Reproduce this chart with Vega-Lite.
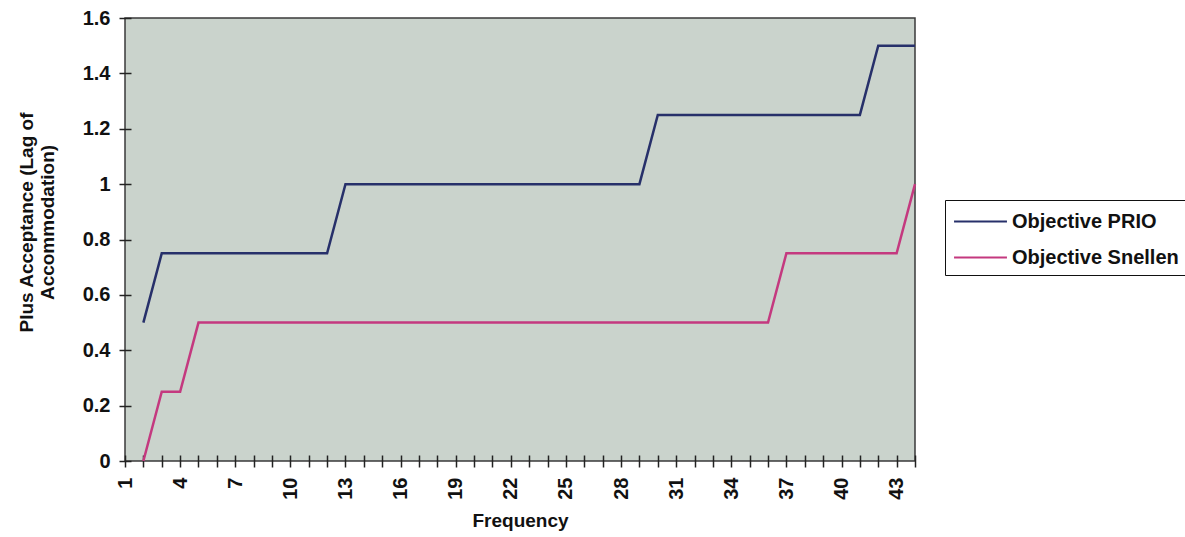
{
  "$schema": "https://vega.github.io/schema/vega-lite/v6.json",
  "width": 790,
  "height": 443,
  "autosize": {"type": "none"},
  "padding": {"left": 125, "top": 18, "right": 270, "bottom": 76},
  "background": "white",
  "config": {
    "font": "Liberation Sans",
    "view": {"fill": "#cad3cc", "stroke": "#3a3a3a", "strokeWidth": 1.5},
    "axis": {
      "labelFont": "Liberation Sans", "labelFontWeight": "bold", "labelFontSize": 20, "labelColor": "#111",
      "titleFont": "Liberation Sans", "titleFontWeight": "bold", "titleFontSize": 19, "titleColor": "#111",
      "domain": false, "tickColor": "#222", "tickWidth": 1.5, "tickSize": 12, "offset": -6, "grid": false
    }
  },
  "data": {"values": [
    {"series": "Objective PRIO", "f": 2, "v": 0.5},
    {"series": "Objective PRIO", "f": 3, "v": 0.75},
    {"series": "Objective PRIO", "f": 4, "v": 0.75},
    {"series": "Objective PRIO", "f": 5, "v": 0.75},
    {"series": "Objective PRIO", "f": 6, "v": 0.75},
    {"series": "Objective PRIO", "f": 7, "v": 0.75},
    {"series": "Objective PRIO", "f": 8, "v": 0.75},
    {"series": "Objective PRIO", "f": 9, "v": 0.75},
    {"series": "Objective PRIO", "f": 10, "v": 0.75},
    {"series": "Objective PRIO", "f": 11, "v": 0.75},
    {"series": "Objective PRIO", "f": 12, "v": 0.75},
    {"series": "Objective PRIO", "f": 13, "v": 1},
    {"series": "Objective PRIO", "f": 14, "v": 1},
    {"series": "Objective PRIO", "f": 15, "v": 1},
    {"series": "Objective PRIO", "f": 16, "v": 1},
    {"series": "Objective PRIO", "f": 17, "v": 1},
    {"series": "Objective PRIO", "f": 18, "v": 1},
    {"series": "Objective PRIO", "f": 19, "v": 1},
    {"series": "Objective PRIO", "f": 20, "v": 1},
    {"series": "Objective PRIO", "f": 21, "v": 1},
    {"series": "Objective PRIO", "f": 22, "v": 1},
    {"series": "Objective PRIO", "f": 23, "v": 1},
    {"series": "Objective PRIO", "f": 24, "v": 1},
    {"series": "Objective PRIO", "f": 25, "v": 1},
    {"series": "Objective PRIO", "f": 26, "v": 1},
    {"series": "Objective PRIO", "f": 27, "v": 1},
    {"series": "Objective PRIO", "f": 28, "v": 1},
    {"series": "Objective PRIO", "f": 29, "v": 1},
    {"series": "Objective PRIO", "f": 30, "v": 1.25},
    {"series": "Objective PRIO", "f": 31, "v": 1.25},
    {"series": "Objective PRIO", "f": 32, "v": 1.25},
    {"series": "Objective PRIO", "f": 33, "v": 1.25},
    {"series": "Objective PRIO", "f": 34, "v": 1.25},
    {"series": "Objective PRIO", "f": 35, "v": 1.25},
    {"series": "Objective PRIO", "f": 36, "v": 1.25},
    {"series": "Objective PRIO", "f": 37, "v": 1.25},
    {"series": "Objective PRIO", "f": 38, "v": 1.25},
    {"series": "Objective PRIO", "f": 39, "v": 1.25},
    {"series": "Objective PRIO", "f": 40, "v": 1.25},
    {"series": "Objective PRIO", "f": 41, "v": 1.25},
    {"series": "Objective PRIO", "f": 42, "v": 1.5},
    {"series": "Objective PRIO", "f": 43, "v": 1.5},
    {"series": "Objective PRIO", "f": 44, "v": 1.5},
    {"series": "Objective Snellen", "f": 2, "v": 0},
    {"series": "Objective Snellen", "f": 3, "v": 0.25},
    {"series": "Objective Snellen", "f": 4, "v": 0.25},
    {"series": "Objective Snellen", "f": 5, "v": 0.5},
    {"series": "Objective Snellen", "f": 6, "v": 0.5},
    {"series": "Objective Snellen", "f": 7, "v": 0.5},
    {"series": "Objective Snellen", "f": 8, "v": 0.5},
    {"series": "Objective Snellen", "f": 9, "v": 0.5},
    {"series": "Objective Snellen", "f": 10, "v": 0.5},
    {"series": "Objective Snellen", "f": 11, "v": 0.5},
    {"series": "Objective Snellen", "f": 12, "v": 0.5},
    {"series": "Objective Snellen", "f": 13, "v": 0.5},
    {"series": "Objective Snellen", "f": 14, "v": 0.5},
    {"series": "Objective Snellen", "f": 15, "v": 0.5},
    {"series": "Objective Snellen", "f": 16, "v": 0.5},
    {"series": "Objective Snellen", "f": 17, "v": 0.5},
    {"series": "Objective Snellen", "f": 18, "v": 0.5},
    {"series": "Objective Snellen", "f": 19, "v": 0.5},
    {"series": "Objective Snellen", "f": 20, "v": 0.5},
    {"series": "Objective Snellen", "f": 21, "v": 0.5},
    {"series": "Objective Snellen", "f": 22, "v": 0.5},
    {"series": "Objective Snellen", "f": 23, "v": 0.5},
    {"series": "Objective Snellen", "f": 24, "v": 0.5},
    {"series": "Objective Snellen", "f": 25, "v": 0.5},
    {"series": "Objective Snellen", "f": 26, "v": 0.5},
    {"series": "Objective Snellen", "f": 27, "v": 0.5},
    {"series": "Objective Snellen", "f": 28, "v": 0.5},
    {"series": "Objective Snellen", "f": 29, "v": 0.5},
    {"series": "Objective Snellen", "f": 30, "v": 0.5},
    {"series": "Objective Snellen", "f": 31, "v": 0.5},
    {"series": "Objective Snellen", "f": 32, "v": 0.5},
    {"series": "Objective Snellen", "f": 33, "v": 0.5},
    {"series": "Objective Snellen", "f": 34, "v": 0.5},
    {"series": "Objective Snellen", "f": 35, "v": 0.5},
    {"series": "Objective Snellen", "f": 36, "v": 0.5},
    {"series": "Objective Snellen", "f": 37, "v": 0.75},
    {"series": "Objective Snellen", "f": 38, "v": 0.75},
    {"series": "Objective Snellen", "f": 39, "v": 0.75},
    {"series": "Objective Snellen", "f": 40, "v": 0.75},
    {"series": "Objective Snellen", "f": 41, "v": 0.75},
    {"series": "Objective Snellen", "f": 42, "v": 0.75},
    {"series": "Objective Snellen", "f": 43, "v": 0.75},
    {"series": "Objective Snellen", "f": 44, "v": 1}
  ]},
  "mark": {"type": "line", "strokeWidth": 2.5, "clip": false},
  "encoding": {
    "x": {
      "field": "f", "type": "ordinal",
      "scale": {"type": "point", "padding": 0, "domain": [1,2,3,4,5,6,7,8,9,10,11,12,13,14,15,16,17,18,19,20,21,22,23,24,25,26,27,28,29,30,31,32,33,34,35,36,37,38,39,40,41,42,43,44]},
      "axis": {"title": "Frequency", "labelExpr": "(datum.value - 1) % 3 == 0 ? datum.label : ''", "labelAngle": -90, "labelPadding": 10, "titlePadding": 12, "labelOverlap": false}
    },
    "y": {
      "field": "v", "type": "quantitative",
      "scale": {"domain": [0, 1.6], "nice": false, "zero": true},
      "axis": {"title": ["Plus Acceptance (Lag of", "Accommodation)"], "values": [0,0.2,0.4,0.6,0.8,1,1.2,1.4,1.6], "format": ".1~f", "labelPadding": 9, "titlePadding": 25, "titleY": 204}
    },
    "color": {
      "field": "series", "type": "nominal",
      "scale": {"domain": ["Objective PRIO", "Objective Snellen"], "range": ["#27306a", "#c4397f"]},
      "legend": {
        "title": null, "orient": "none", "legendX": 820, "legendY": 182,
        "symbolType": "M-2,0L2,0", "symbolSize": 700, "symbolStrokeWidth": 2, "symbolOffset": 14,
        "labelFont": "Liberation Sans", "labelFontWeight": "bold", "labelFontSize": 20, "labelColor": "#111", "labelLimit": 300,
        "strokeColor": "#111", "padding": 7, "rowPadding": 11, "labelOffset": 17
      }
    }
  }
}
